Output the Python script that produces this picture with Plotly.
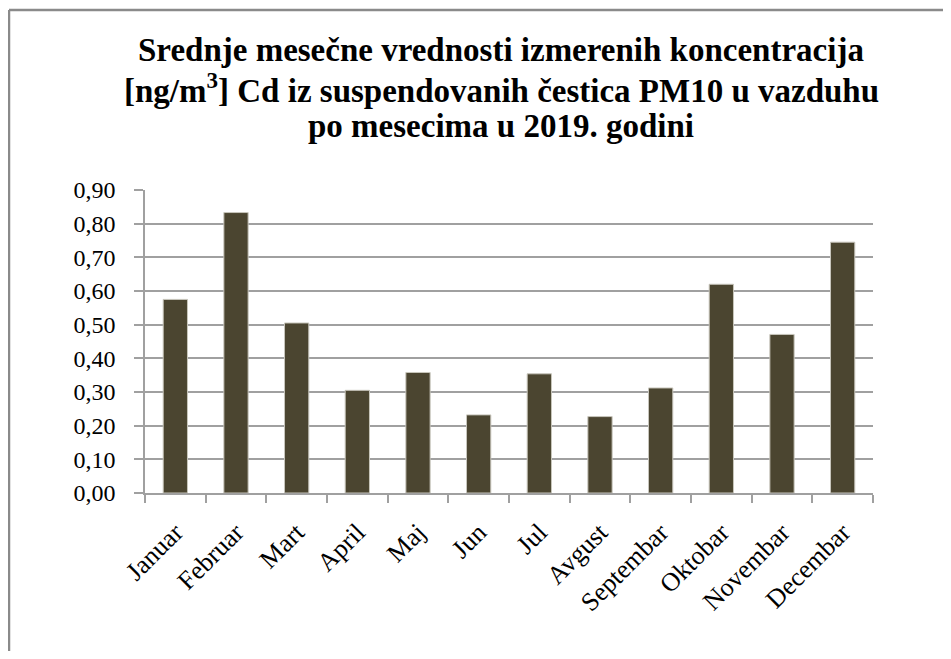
import plotly.graph_objects as go

months = ["Januar", "Februar", "Mart", "April", "Maj", "Jun", "Jul",
          "Avgust", "Septembar", "Oktobar", "Novembar", "Decembar"]
cd_values = [0.575, 0.833, 0.505, 0.305, 0.358, 0.232, 0.354,
             0.227, 0.312, 0.620, 0.471, 0.745]
y_ticks = [0.0, 0.1, 0.2, 0.3, 0.4, 0.5, 0.6, 0.7, 0.8, 0.9]
title_lines = [
    "Srednje mesečne vrednosti izmerenih koncentracija",
    "[ng/m<sup>3</sup>] Cd iz suspendovanih čestica PM10 u vazduhu",
    "po mesecima u 2019. godini",
]

# page body has an 8px margin; figure sized to fit without scrollbars
OFF = 8
W, H = 951 - 2 * OFF, 659 - 2 * OFF
PL, PR, PT, PB = 145, 873, 190, 493          # plot area in screen px
ML, MT = PL - OFF, PT - OFF
PW, PH = PR - PL, PB - PT
MR, MB = W - ML - PW, H - MT - PH

def px_x(s):
    return (s - PL) / PW

def px_y(s):
    return (PB - s) / PH

serif = "Liberation Serif, Times New Roman, serif"

fig = go.Figure(go.Bar(
    x=months, y=cd_values,
    marker=dict(color="#4b4530", line=dict(color="#c8c6bc", width=1)),
))

title_y = [50, 88, 126]
annotations = [
    dict(text=t, xref="paper", yref="paper",
         x=px_x(501), y=px_y(yy), xanchor="center", yanchor="middle",
         showarrow=False,
         font=dict(family=serif, size=33, color="black", weight="bold"))
    for t, yy in zip(title_lines, title_y)
]

border = dict(color="#8a8a8a", width=2.5)
fig.update_layout(
    width=W, height=H,
    margin=dict(l=ML, r=MR, t=MT, b=MB, pad=0),
    paper_bgcolor="white", plot_bgcolor="white",
    separators=", ",
    bargap=0.6,
    showlegend=False,
    font=dict(family=serif, color="black", size=24),
    annotations=annotations,
    shapes=[
        dict(type="line", xref="paper", yref="paper",
             x0=px_x(9), x1=px_x(1000), y0=px_y(10), y1=px_y(10),
             line=border, layer="below"),
        dict(type="line", xref="paper", yref="paper",
             x0=px_x(9), x1=px_x(9), y0=px_y(10), y1=px_y(720),
             line=border, layer="below"),
    ],
)

fig.update_xaxes(
    type="category", tickangle=-45,
    showline=True, linecolor="#a0a0a0", linewidth=1.5,
    ticks="outside", tickson="boundaries", ticklen=8, tickcolor="#a0a0a0",
    tickwidth=1.5, showgrid=False,
    ticklabelstandoff=12,
    tickfont=dict(family=serif, size=26),
)
fig.update_yaxes(
    range=[0, 0.9], tickvals=y_ticks, tickformat=".2f",
    showline=True, linecolor="#a0a0a0", linewidth=1.5,
    ticks="outside", ticklen=9, tickcolor="#a0a0a0", tickwidth=1.5,
    showgrid=True, gridcolor="#a0a0a0", gridwidth=1.5,
    zeroline=False,
    ticklabelstandoff=14,
    tickfont=dict(family=serif, size=24),
)

fig.write_html("out.html")
